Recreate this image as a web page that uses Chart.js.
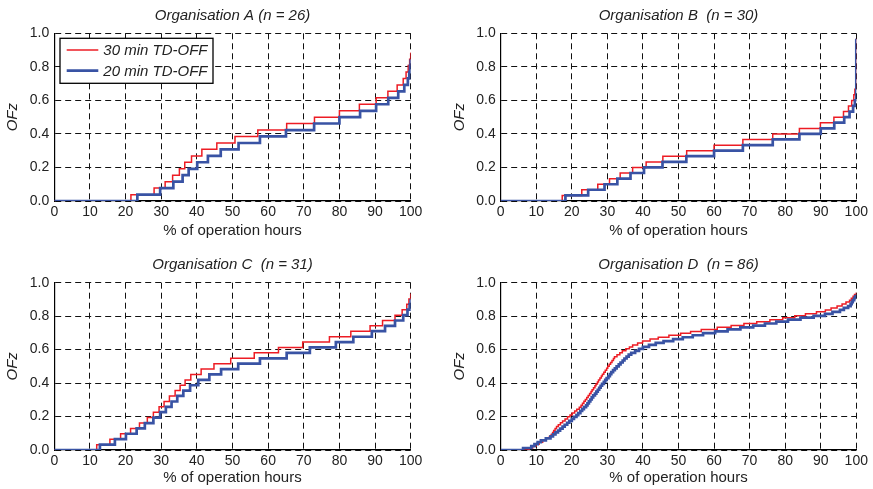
<!DOCTYPE html>
<html>
<head>
<meta charset="utf-8">
<title>OFz vs % of operation hours</title>
<script src="https://cdn.jsdelivr.net/npm/chart.js@4.4.1/dist/chart.umd.min.js"></script>
<style>
  body { margin: 0; background: #fff; }
  #wrap { position: relative; width: 873px; height: 489px; }
  canvas { position: absolute; }
</style>
</head>
<body>
<div id="wrap">
  <canvas id="chart-a" width="436" height="244" style="left:0;top:0"></canvas>
  <canvas id="chart-b" width="437" height="244" style="left:436px;top:0"></canvas>
  <canvas id="chart-c" width="436" height="245" style="left:0;top:244px"></canvas>
  <canvas id="chart-d" width="437" height="245" style="left:436px;top:244px"></canvas>
</div>
<script>
// ECDF steps: x = % of operation hours where OFz jumps, y = OFz level after the jump

// Organisation A (n = 26)
const aHours30 = [0, 21.5, 28.0, 31.1, 33.2, 35.1, 36.6, 38.5, 41.4, 45.6, 50.7, 57.1, 65.2, 73.0, 80.0, 85.6, 90.3, 93.6, 96.2, 97.9, 98.7, 99.3, 99.7, 100];
const aOfz30   = [0, 0.038, 0.077, 0.115, 0.154, 0.192, 0.231, 0.269, 0.308, 0.346, 0.385, 0.423, 0.462, 0.500, 0.538, 0.577, 0.615, 0.654, 0.692, 0.731, 0.769, 0.808, 0.846, 0.885];
const aHours20 = [0, 23.3, 29.7, 33.4, 36.0, 37.7, 40.1, 43.1, 46.7, 51.7, 57.7, 65.0, 72.9, 80.0, 85.8, 90.3, 93.7, 96.5, 98.2, 99.2, 99.6, 99.8, 100];
const aOfz20   = [0, 0.038, 0.077, 0.115, 0.154, 0.192, 0.231, 0.269, 0.308, 0.346, 0.385, 0.423, 0.462, 0.500, 0.538, 0.577, 0.615, 0.654, 0.692, 0.731, 0.769, 0.808, 0.846];

// Organisation B (n = 30)
const bHours30 = [0, 17.3, 22.8, 27.3, 30.6, 33.6, 37.1, 40.9, 45.6, 52.3, 60.0, 68.1, 76.5, 84.0, 89.9, 93.7, 96.4, 97.8, 98.7, 99.3, 99.6, 100];
const bOfz30   = [0, 0.033, 0.067, 0.100, 0.133, 0.167, 0.200, 0.233, 0.267, 0.300, 0.333, 0.367, 0.400, 0.433, 0.467, 0.500, 0.533, 0.567, 0.600, 0.633, 0.667, 0.967];
const bHours20 = [0, 18.2, 24.6, 29.2, 32.8, 36.5, 40.3, 45.5, 52.2, 60.0, 68.1, 76.5, 84.0, 90.0, 93.8, 96.6, 98.1, 99.1, 99.6, 100];
const bOfz20   = [0, 0.033, 0.067, 0.100, 0.133, 0.167, 0.200, 0.233, 0.267, 0.300, 0.333, 0.367, 0.400, 0.433, 0.467, 0.500, 0.533, 0.567, 0.600, 0.967];

// Organisation C (n = 31)
const cHours30 = [0, 11.9, 15.6, 18.6, 21.4, 23.9, 26.1, 27.8, 29.4, 30.8, 32.3, 33.9, 35.3, 36.7, 38.3, 41.2, 44.8, 49.5, 56.1, 62.9, 69.7, 77.2, 83.2, 88.6, 92.1, 95.6, 97.6, 98.9, 99.5, 100];
const cOfz30   = [0, 0.032, 0.065, 0.097, 0.129, 0.161, 0.194, 0.226, 0.258, 0.290, 0.323, 0.355, 0.387, 0.419, 0.452, 0.484, 0.516, 0.548, 0.581, 0.613, 0.645, 0.677, 0.710, 0.742, 0.774, 0.806, 0.839, 0.871, 0.903, 0.935];
const cHours20 = [0, 12.8, 17.0, 20.1, 23.1, 25.4, 27.8, 29.7, 31.3, 32.9, 34.5, 36.2, 38.1, 40.4, 43.5, 46.8, 51.6, 57.7, 65.2, 71.7, 79.0, 83.9, 89.1, 92.8, 95.6, 97.9, 99.1, 99.7, 100];
const cOfz20   = [0, 0.032, 0.065, 0.097, 0.129, 0.161, 0.194, 0.226, 0.258, 0.290, 0.323, 0.355, 0.387, 0.419, 0.452, 0.484, 0.516, 0.548, 0.581, 0.613, 0.645, 0.677, 0.710, 0.742, 0.774, 0.806, 0.839, 0.871, 0.903];

// Organisation D (n = 86) - both series share the same OFz levels
const dHours30 = [0, 8.0, 9.0, 9.9, 10.8, 11.8, 12.7, 13.7, 14.2, 14.6, 14.9, 15.3, 15.7, 16.2, 16.8, 17.4, 18.1, 18.8, 19.5, 20.1, 20.8,
  21.4, 22.1, 22.6, 23.0, 23.4, 23.8, 24.2, 24.6, 25.0, 25.4, 25.7, 26.1, 26.5, 26.8, 27.2, 27.5, 27.9, 28.3, 28.6, 29.0,
  29.4, 29.8, 30.1, 30.5, 30.9, 31.3, 31.7, 32.0, 32.7, 33.5, 34.2, 35.2, 36.2, 37.1, 38.5, 39.9, 42.0, 44.3, 47.3, 50.6,
  53.4, 56.4, 60.9, 64.8, 68.4, 72.0, 75.7, 79.3, 82.7, 85.7, 88.8, 91.3, 92.9, 94.6, 96.0, 97.1, 98.1, 98.6, 99.1, 99.5, 100];
const dHours20 = [0, 6.3, 8.6, 9.5, 10.4, 11.3, 12.7, 14.0, 14.7, 15.4, 16.1, 16.7, 17.4, 18.0, 18.7, 19.3, 20.0, 20.6, 21.3, 21.8, 22.4,
  22.9, 23.4, 24.0, 24.4, 24.8, 25.2, 25.6, 26.0, 26.5, 26.9, 27.3, 27.7, 28.1, 28.5, 29.0, 29.4, 29.8, 30.3, 30.7, 31.1,
  31.6, 32.1, 32.6, 33.2, 33.7, 34.3, 34.8, 35.4, 36.0, 36.7, 37.8, 38.9, 40.0, 41.7, 43.6, 45.8, 48.5, 51.2, 54.0, 56.9,
  60.3, 63.8, 67.4, 71.0, 74.3, 77.5, 80.8, 84.3, 88.0, 91.2, 93.3, 95.4, 96.5, 97.7, 98.4, 98.7, 99.0, 99.4, 99.7, 100];
const dOfz = [0, 0.012, 0.023, 0.035, 0.047, 0.058, 0.070, 0.081, 0.093, 0.105, 0.116, 0.128, 0.140, 0.151, 0.163, 0.174, 0.186, 0.198, 0.209, 0.221, 0.233,
  0.244, 0.256, 0.267, 0.279, 0.291, 0.302, 0.314, 0.326, 0.337, 0.349, 0.360, 0.372, 0.384, 0.395, 0.407, 0.419, 0.430, 0.442, 0.453, 0.465,
  0.477, 0.488, 0.500, 0.512, 0.523, 0.535, 0.547, 0.558, 0.570, 0.581, 0.593, 0.605, 0.616, 0.628, 0.640, 0.651, 0.663, 0.674, 0.686, 0.698,
  0.709, 0.721, 0.733, 0.744, 0.756, 0.767, 0.779, 0.791, 0.802, 0.814, 0.826, 0.837, 0.849, 0.860, 0.872, 0.884, 0.895, 0.907, 0.919, 0.930, 0.942];

const xTicks = [0, 10, 20, 30, 40, 50, 60, 70, 80, 90, 100];
const yTicks = [0, 0.2, 0.4, 0.6, 0.8, 1.0];
const seriesLabels = ['30 min TD-OFF', '20 min TD-OFF'];

const RED = '#ed1c24';
const BLUE = '#3953a4';
const TEXT = '#222';
const FONT = "'Liberation Sans', Arial, Helvetica, sans-serif";

function toPoints(xs, ys) {
    return xs.map((x, i) => ({ x, y: ys[i] }));
}

/**
 * Boxed legend drawn in the top-left corner of the plot area (panel A only)
 */
const legendBox = {
    id: 'legendBox',
    afterDraw(chart) {
        const { ctx, chartArea } = chart;
        const left = chartArea.left + 5.7;
        const top = chartArea.top + 5;
        const w = 153, h = 45;
        ctx.save();
        ctx.fillStyle = '#fff';
        ctx.fillRect(left, top, w, h);
        ctx.strokeStyle = '#000';
        ctx.lineWidth = 1.3;
        ctx.strokeRect(left, top, w, h);
        ctx.font = `italic 15px ${FONT}`;
        ctx.textBaseline = 'alphabetic';
        ctx.textAlign = 'left';
        chart.data.datasets.forEach((ds, i) => {
            const y = top + 11.7 + i * 20.7;
            ctx.strokeStyle = ds.borderColor;
            ctx.lineWidth = ds.borderWidth;
            ctx.beginPath();
            ctx.moveTo(left + 6.7, y);
            ctx.lineTo(left + 38.3, y);
            ctx.stroke();
            ctx.fillStyle = TEXT;
            ctx.fillText(ds.label, left + 43.3, y + 5.3);
        });
        ctx.restore();
    }
};

function buildPanel(id, p) {
    const canvas = document.getElementById(id);
    return new Chart(canvas, {
        type: 'line',
        data: {
            datasets: [
                {
                    label: seriesLabels[0],
                    data: toPoints(p.hours30, p.ofz30),
                    borderColor: RED,
                    borderWidth: 1.5,
                    stepped: 'before',
                    pointRadius: 0,
                    fill: false,
                    order: 2
                },
                {
                    label: seriesLabels[1],
                    data: toPoints(p.hours20, p.ofz20),
                    borderColor: BLUE,
                    borderWidth: 2.7,
                    stepped: 'before',
                    pointRadius: 0,
                    fill: false,
                    order: 1
                }
            ]
        },
        options: {
            responsive: false,
            animation: false,
            events: [],
            layout: { padding: { left: 0, right: p.padRight, top: 0, bottom: 0 } },
            plugins: {
                legend: { display: false },
                tooltip: { enabled: false },
                title: {
                    display: true,
                    text: p.title,
                    fullSize: false,
                    color: TEXT,
                    font: { family: FONT, size: 15, style: 'italic', weight: 'normal', lineHeight: 1.2 },
                    padding: { top: p.titleTop, bottom: p.titleBottom }
                }
            },
            scales: {
                x: {
                    type: 'linear',
                    min: 0,
                    max: 100,
                    afterBuildTicks: (s) => { s.ticks = xTicks.map(v => ({ value: v })); },
                    afterFit: (s) => { s.height = p.xAxisH; },
                    ticks: {
                        autoSkip: false,
                        maxRotation: 0,
                        padding: 3,
                        color: TEXT,
                        font: { family: FONT, size: 14 }
                    },
                    grid: { color: '#111', lineWidth: 1, drawTicks: false },
                    border: { display: true, color: '#000', width: 1.2, dash: [6, 4] },
                    title: {
                        display: true,
                        text: '% of operation hours',
                        color: TEXT,
                        font: { family: FONT, size: 15, lineHeight: 1.2 },
                        padding: { top: 0, bottom: p.xTitlePad }
                    }
                },
                y: {
                    min: 0,
                    max: 1,
                    afterBuildTicks: (s) => { s.ticks = yTicks.map(v => ({ value: v })); },
                    afterFit: (s) => { s.width = p.yAxisW; },
                    ticks: {
                        padding: 5,
                        color: TEXT,
                        font: { family: FONT, size: 14 },
                        callback: (v) => Number(v).toFixed(1)
                    },
                    grid: { color: '#111', lineWidth: 1, drawTicks: false },
                    border: { display: true, color: '#000', width: 1.2, dash: [6, 4] },
                    title: {
                        display: true,
                        text: 'OFz',
                        color: TEXT,
                        font: { family: FONT, size: 15, style: 'italic', lineHeight: 1.2 },
                        padding: { top: p.yTitlePad, bottom: 0 }
                    }
                }
            }
        },
        plugins: p.legend ? [legendBox] : []
    });
}

buildPanel('chart-a', {
    title: 'Organisation A (n = 26)',
    hours30: aHours30, ofz30: aOfz30, hours20: aHours20, ofz20: aOfz20,
    padRight: 25.3, yAxisW: 54.3, xAxisH: 43,
    titleTop: 6.5, titleBottom: 8.8, xTitlePad: 4.2, yTitlePad: 4.3,
    legend: true
});
buildPanel('chart-b', {
    title: 'Organisation B  (n = 30)',
    hours30: bHours30, ofz30: bOfz30, hours20: bHours20, ofz20: bOfz20,
    padRight: 16.7, yAxisW: 64.7, xAxisH: 43,
    titleTop: 6.5, titleBottom: 8.8, xTitlePad: 4.2, yTitlePad: 14.7
});
buildPanel('chart-c', {
    title: 'Organisation C  (n = 31)',
    hours30: cHours30, ofz30: cOfz30, hours20: cHours20, ofz20: cOfz20,
    padRight: 25.3, yAxisW: 54.3, xAxisH: 39,
    titleTop: 11.8, titleBottom: 8.9, xTitlePad: 1.9, yTitlePad: 4.3
});
buildPanel('chart-d', {
    title: 'Organisation D  (n = 86)',
    hours30: dHours30, ofz30: dOfz, hours20: dHours20, ofz20: dOfz,
    padRight: 16.7, yAxisW: 64.7, xAxisH: 39,
    titleTop: 11.8, titleBottom: 8.9, xTitlePad: 1.9, yTitlePad: 14.7
});
</script>
</body>
</html>
